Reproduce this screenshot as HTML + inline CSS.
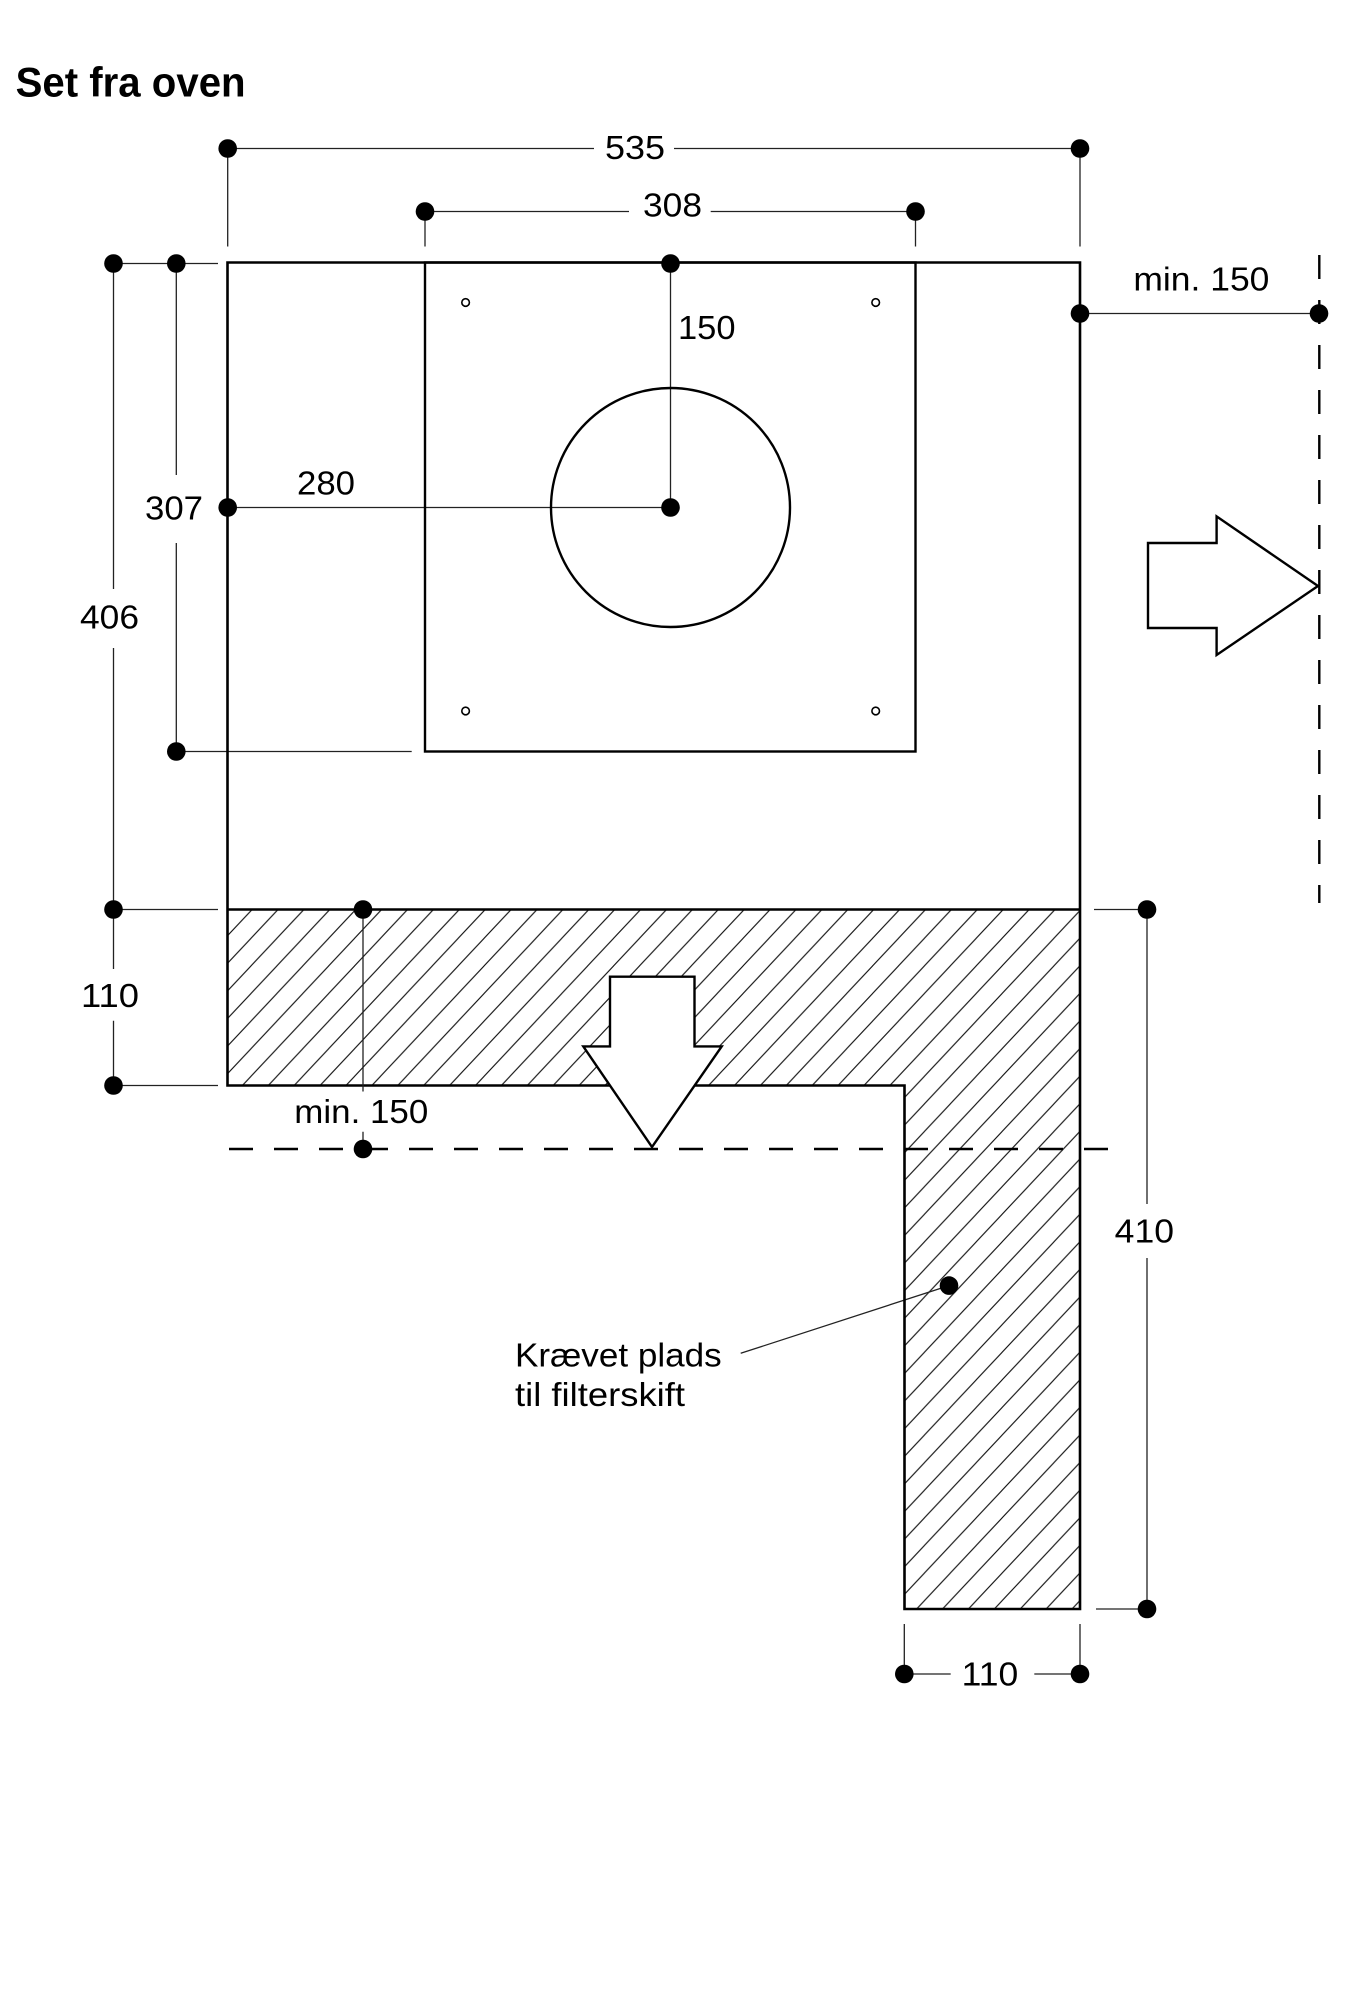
<!DOCTYPE html>
<html>
<head>
<meta charset="utf-8">
<style>
  html, body { margin: 0; padding: 0; background: #fff; }
  body { width: 1355px; height: 2000px; overflow: hidden; }
  svg { display: block; }
  text { font-family: "Liberation Sans", Arial, sans-serif; fill: #000; }
</style>
</head>
<body>
<svg width="1355" height="2000" viewBox="0 0 1355 2000" xmlns="http://www.w3.org/2000/svg">
  <defs>
    <pattern id="hatch" patternUnits="userSpaceOnUse" x="17.8" y="0" width="25.9" height="27.6">
      <path d="M0,27.6 L25.9,0 M-3,3.2 L3,-3.2 M22.9,30.8 L28.9,24.4" stroke="#111" stroke-width="1.1" fill="none"/>
    </pattern>
  </defs>

  <rect x="0" y="0" width="1355" height="2000" fill="#fff"/>

  <!-- Title -->
  <text x="15.6" y="96.5" font-size="42" font-weight="bold" textLength="230" lengthAdjust="spacingAndGlyphs">Set fra oven</text>

  <!-- Hatched region -->
  <path d="M227.5,909.5 H1080 V1609 H904.5 V1085.5 H227.5 Z" fill="url(#hatch)"/>

  <!-- Thin dimension lines -->
  <g stroke="#222" stroke-width="1.3" fill="none">
    <path d="M227.7,148.5 H594 M674,148.5 H1080 M227.7,148.5 V246.5 M1080,148.5 V246.5"/>
    <path d="M425,211.5 H629 M710.7,211.5 H915.5 M425,211.5 V246.5 M915.5,211.5 V246.5"/>
    <path d="M113.5,263.5 H218"/>
    <path d="M113.5,263.5 V589 M113.5,648 V969 M113.5,1020.7 V1085.5"/>
    <path d="M176.3,263.5 V475 M176.3,543 V751.5"/>
    <path d="M176.3,751.5 H411.7"/>
    <path d="M113.5,909.5 H218"/>
    <path d="M113.5,1085.5 H218"/>
    <path d="M227.7,507.5 H670.5"/>
    <path d="M670.5,263.5 V507.5"/>
    <path d="M1080,313.5 H1319"/>
    <path d="M1147,909.5 V1204 M1147,1258 V1609 M1094,909.5 H1147 M1096,1609 H1147"/>
    <path d="M904.3,1674 H950.7 M1034.3,1674 H1080 M904.3,1624 V1674 M1080,1624 V1674"/>
    <path d="M740.7,1353.3 L949,1285.6"/>
  </g>

  <!-- Main outlines -->
  <g stroke="#000" fill="none" stroke-linejoin="miter">
    <path d="M227.5,262.5 H1080 V1609 H904.5 V1085.5 H227.5 Z" stroke-width="2.6"/>
    <path d="M227.5,909.5 H1080" stroke-width="2.6"/>
    <rect x="425" y="262.5" width="490.5" height="489" stroke-width="2.4"/>
    <circle cx="670.5" cy="507.5" r="119.5" stroke-width="2.4"/>
  </g>

  <!-- min 150 bottom vertical (over hatch) -->
  <path d="M363,909.5 V1091.5 M363,1131.7 V1149" stroke="#222" stroke-width="1.3" fill="none"/>

  <!-- Small holes -->
  <g stroke="#000" stroke-width="1.6" fill="#fff">
    <circle cx="465.6" cy="302.5" r="3.8"/>
    <circle cx="875.7" cy="302.5" r="3.8"/>
    <circle cx="465.6" cy="711" r="3.8"/>
    <circle cx="875.7" cy="711" r="3.8"/>
  </g>

  <!-- Arrows -->
  <g stroke="#000" stroke-width="2.4" fill="#fff" stroke-linejoin="miter">
    <polygon points="1148,543 1216.6,543 1216.6,516.4 1318,586 1216.6,655 1216.6,628 1148,628"/>
    <polygon points="610,976.7 694.5,976.7 694.5,1046.4 721.7,1046.4 652,1147 583.3,1046.4 610,1046.4"/>
  </g>

  <!-- Dashed lines -->
  <g stroke="#000" stroke-width="2.4" fill="none" stroke-dasharray="24 21">
    <path d="M1319.3,255 V903"/>
    <path d="M229,1149 H1109"/>
  </g>

  <!-- Dots -->
  <g fill="#000">
    <circle cx="227.7" cy="148.5" r="9.3"/>
    <circle cx="1080" cy="148.5" r="9.3"/>
    <circle cx="425" cy="211.5" r="9.3"/>
    <circle cx="915.5" cy="211.5" r="9.3"/>
    <circle cx="113.5" cy="263.5" r="9.3"/>
    <circle cx="176.3" cy="263.5" r="9.3"/>
    <circle cx="670.5" cy="263.5" r="9.3"/>
    <circle cx="1080" cy="313.5" r="9.3"/>
    <circle cx="1319" cy="313.5" r="9.3"/>
    <circle cx="227.7" cy="507.5" r="9.3"/>
    <circle cx="670.5" cy="507.5" r="9.3"/>
    <circle cx="176.3" cy="751.5" r="9.3"/>
    <circle cx="113.5" cy="909.5" r="9.3"/>
    <circle cx="363" cy="909.5" r="9.3"/>
    <circle cx="1147" cy="909.5" r="9.3"/>
    <circle cx="113.5" cy="1085.5" r="9.3"/>
    <circle cx="363" cy="1149" r="9.3"/>
    <circle cx="949" cy="1285.6" r="9.3"/>
    <circle cx="1147" cy="1609" r="9.3"/>
    <circle cx="904.3" cy="1674" r="9.3"/>
    <circle cx="1080" cy="1674" r="9.3"/>
  </g>

  <!-- Labels -->
  <g font-size="33">
    <text x="605" y="159" textLength="60" lengthAdjust="spacingAndGlyphs">535</text>
    <text x="643" y="216.7" textLength="59" lengthAdjust="spacingAndGlyphs">308</text>
    <text x="678" y="339" textLength="57.5" lengthAdjust="spacingAndGlyphs">150</text>
    <text x="297" y="494.6" textLength="58" lengthAdjust="spacingAndGlyphs">280</text>
    <text x="145" y="519.6" textLength="58" lengthAdjust="spacingAndGlyphs">307</text>
    <text x="80" y="628.3" textLength="59" lengthAdjust="spacingAndGlyphs">406</text>
    <text x="1133.4" y="290.6" textLength="136" lengthAdjust="spacingAndGlyphs">min. 150</text>
    <text x="81" y="1007" textLength="58" lengthAdjust="spacingAndGlyphs">110</text>
    <text x="294.3" y="1123" textLength="134" lengthAdjust="spacingAndGlyphs">min. 150</text>
    <text x="1114.7" y="1242.7" textLength="59.3" lengthAdjust="spacingAndGlyphs">410</text>
    <text x="961.7" y="1685.7" textLength="56.6" lengthAdjust="spacingAndGlyphs">110</text>
    <text x="515" y="1366.7" textLength="206.7" lengthAdjust="spacingAndGlyphs">Krævet plads</text>
    <text x="515" y="1406" textLength="170" lengthAdjust="spacingAndGlyphs">til filterskift</text>
  </g>
</svg>
</body>
</html>
